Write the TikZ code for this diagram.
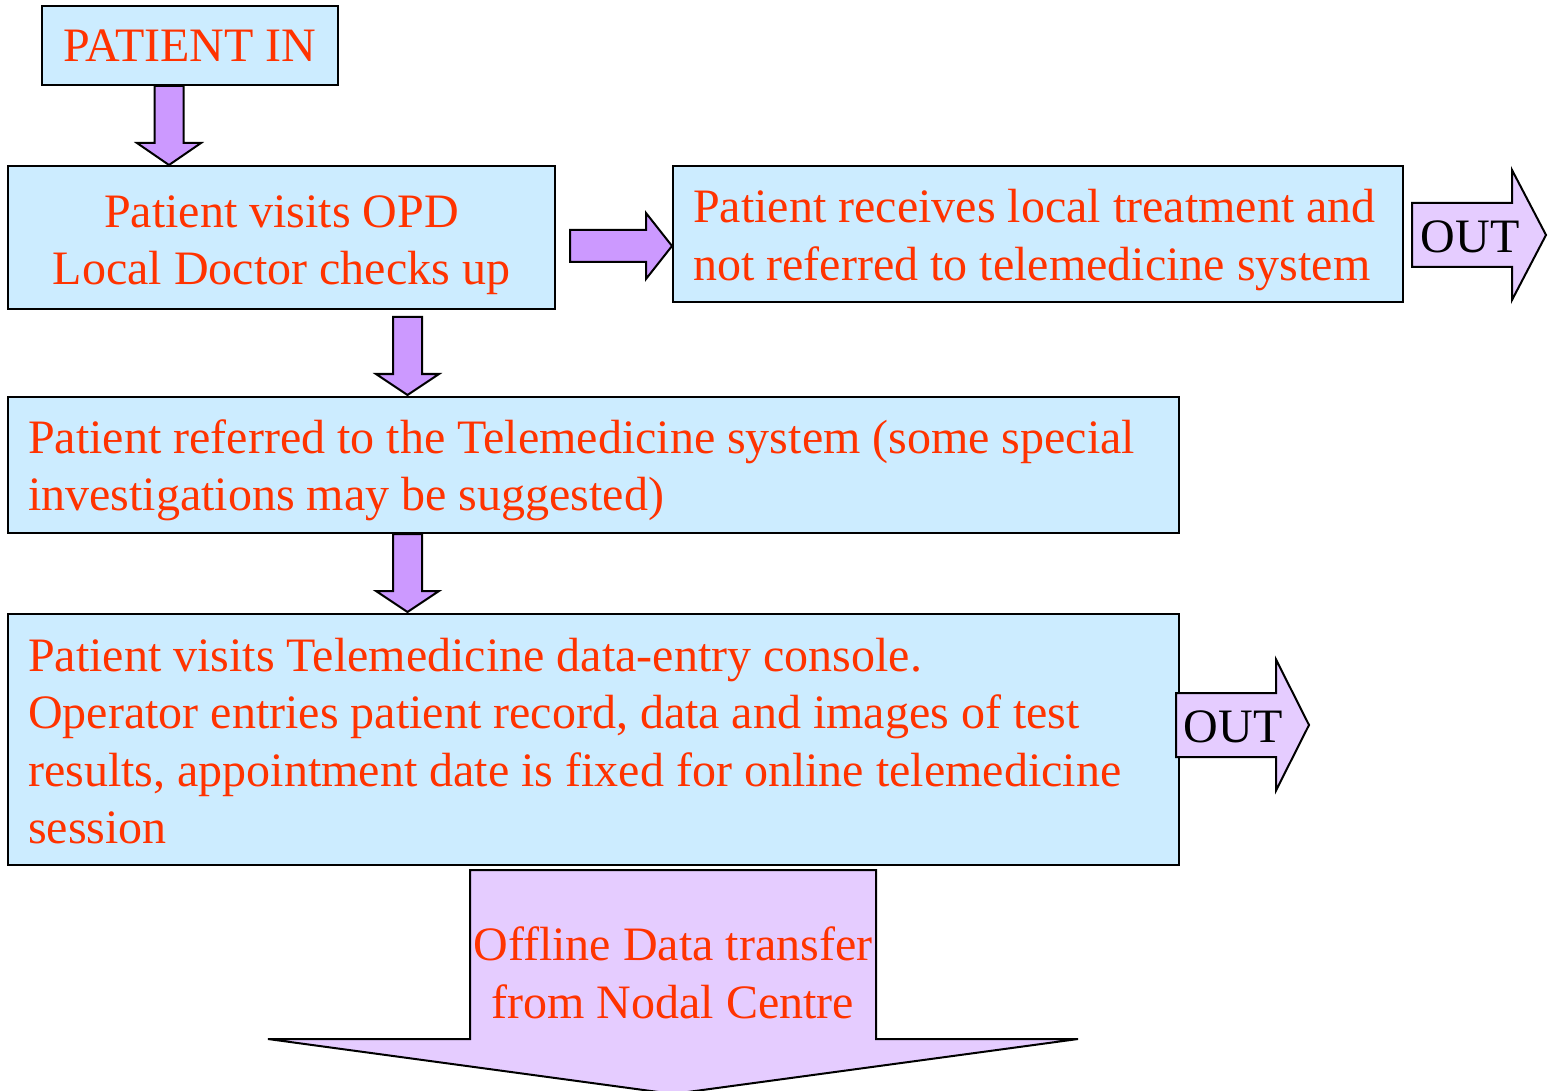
\documentclass[tikz,border=0pt]{standalone}
\usepackage{fontspec}
\setmainfont{Liberation Serif}
\usetikzlibrary{calc}

\definecolor{boxblue}{HTML}{CCECFF}
\definecolor{arrowviolet}{HTML}{CC99FF}
\definecolor{outlilac}{HTML}{E5CCFF}
\definecolor{textred}{HTML}{FF3300}

% Block arrow pointing down: #1 style, #2 top centre, #3 tip,
% #4 half shaft width, #5 half head width, #6 head length (pt)
\newcommand\blockdown[6]{%
  \draw[#1] let \p1=(#2), \p2=(#3) in
    (\x1-#4pt,\y1) -- (\x1-#4pt,\y2+#6pt) -- (\x1-#5pt,\y2+#6pt) -- (\x1,\y2)
    -- (\x1+#5pt,\y2+#6pt) -- (\x1+#4pt,\y2+#6pt) -- (\x1+#4pt,\y1) -- cycle;}
% Block arrow pointing right: same arguments, horizontally
\newcommand\blockright[6]{%
  \draw[#1] let \p1=(#2), \p2=(#3) in
    (\x1,\y1+#4pt) -- (\x2-#6pt,\y1+#4pt) -- (\x2-#6pt,\y1+#5pt) -- (\x2,\y1)
    -- (\x2-#6pt,\y1-#5pt) -- (\x2-#6pt,\y1-#4pt) -- (\x1,\y1-#4pt) -- cycle;}

\begin{document}
\begin{tikzpicture}[x=1pt,y=-1pt,
  box/.style={draw=black, line width=2pt, fill=boxblue, inner sep=0pt},
  boxtext/.style={text=textred, font=\fontsize{48}{57.5}\selectfont, inner sep=0pt},
  blockarrow/.style={draw=black, line width=2pt, fill=arrowviolet, line join=miter},
  outarrow/.style={draw=black, line width=2pt, fill=outlilac, line join=miter},
]
\useasboundingbox (0,0) rectangle (1548,1091);

% process boxes
\node[box, minimum width=296, minimum height=79] (in) at (190,45.5) {};
\node[boxtext] (intext) at (190,46) {PATIENT IN};

\node[box, minimum width=547, minimum height=143] (opd) at (281.5,237.5) {};
\node[boxtext, align=center] (opdtext) at (281.5,245) {Patient visits OPD\\Local Doctor checks up};

\node[box, minimum width=730, minimum height=136] (local) at (1038,234) {};
\node[boxtext, align=left, anchor=west] (localtext) at (693,240)
  {Patient receives local treatment and\\not referred to telemedicine system};

\node[box, minimum width=1171, minimum height=136] (ref) at (593.5,465) {};
\node[boxtext, align=left, anchor=west] (reftext) at (28,470.5)
  {Patient referred to the Telemedicine system (some special\\investigations may be suggested)};

\node[box, minimum width=1171, minimum height=251] (console) at (593.5,739.5) {};
\node[boxtext, align=left, anchor=west] (consoletext) at (28,741)
  {Patient visits Telemedicine data-entry console.\\Operator entries patient record, data and images of test\\results, appointment date is fixed for online telemedicine\\session};

% connectors between the boxes
\coordinate (a1top) at ($(in.south)+(-21,0)$);
\coordinate (a1tip) at (a1top |- opd.north);
\blockdown{blockarrow}{a1top}{a1tip}{14.5}{32}{22}

\coordinate (a2start) at ($(opd.east)+(14,8.5)$);
\coordinate (a2tip) at (a2start -| local.west);
\blockright{blockarrow}{a2start}{a2tip}{16}{33}{26}

\coordinate (a3top) at ($(opd.south)+(126,7)$);
\coordinate (a3tip) at ($(a3top |- ref.north)+(0,-1)$);
\blockdown{blockarrow}{a3top}{a3tip}{14.5}{31.5}{21}

\coordinate (a4top) at (a3top |- ref.south);
\coordinate (a4tip) at ($(a4top |- console.north)+(0,-1)$);
\blockdown{blockarrow}{a4top}{a4tip}{14.5}{31.5}{21}

% exits
\coordinate (o1start) at ($(local.east)+(8,1)$);
\coordinate (o1tip) at ($(o1start)+(134,0)$);
\blockright{outarrow}{o1start}{o1tip}{32}{65}{34}
\node[boxtext, text=black] (out1) at ($(o1start)+(58,2)$) {OUT};

\coordinate (o2start) at ($(console.east)+(-4,-14.5)$);
\coordinate (o2tip) at ($(o2start)+(133,0)$);
\blockright{outarrow}{o2start}{o2tip}{32}{65.5}{33}
\node[boxtext, text=black] (out2) at ($(o2start)+(57,2)$) {OUT};

% hand-over to the nodal centre
\coordinate (bigtop) at ($(console.south)+(79.5,4)$);
\coordinate (bigtip) at ($(bigtop)+(0,224)$);
\blockdown{outarrow}{bigtop}{bigtip}{203}{405}{55}
\node[boxtext, align=center] (offline) at ($(bigtop)+(0,103)$) {Offline Data transfer\\from Nodal Centre};
\end{tikzpicture}
\end{document}
